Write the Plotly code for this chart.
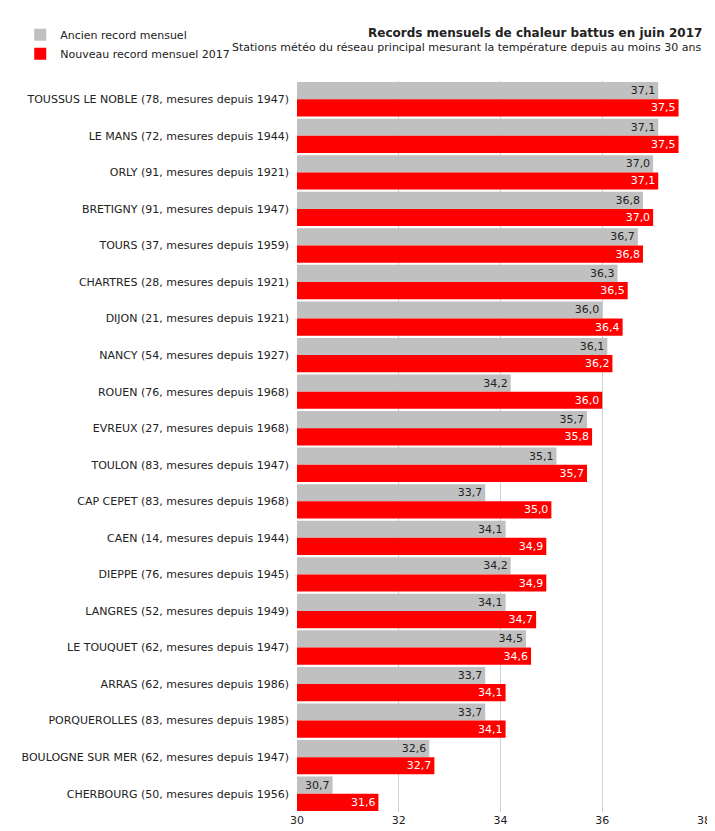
import plotly.graph_objects as go

stations = ["TOUSSUS LE NOBLE (78, mesures depuis 1947)", "LE MANS (72, mesures depuis 1944)",
            "ORLY (91, mesures depuis 1921)", "BRETIGNY (91, mesures depuis 1947)",
            "TOURS (37, mesures depuis 1959)", "CHARTRES (28, mesures depuis 1921)",
            "DIJON (21, mesures depuis 1921)", "NANCY (54, mesures depuis 1927)",
            "ROUEN (76, mesures depuis 1968)", "EVREUX (27, mesures depuis 1968)",
            "TOULON (83, mesures depuis 1947)", "CAP CEPET (83, mesures depuis 1968)",
            "CAEN (14, mesures depuis 1944)", "DIEPPE (76, mesures depuis 1945)",
            "LANGRES (52, mesures depuis 1949)", "LE TOUQUET (62, mesures depuis 1947)",
            "ARRAS (62, mesures depuis 1986)", "PORQUEROLLES (83, mesures depuis 1985)",
            "BOULOGNE SUR MER (62, mesures depuis 1947)", "CHERBOURG (50, mesures depuis 1956)"]
ancien = [37.1, 37.1, 37.0, 36.8, 36.7, 36.3, 36.0, 36.1, 34.2, 35.7,
          35.1, 33.7, 34.1, 34.2, 34.1, 34.5, 33.7, 33.7, 32.6, 30.7]
nouveau = [37.5, 37.5, 37.1, 37.0, 36.8, 36.5, 36.4, 36.2, 36.0, 35.8,
           35.7, 35.0, 34.9, 34.9, 34.7, 34.6, 34.1, 34.1, 32.7, 31.6]

def fr(v):
    return f"{v:.1f}".replace(".", ",")

font = "DejaVu Sans"
fig = go.Figure()
fig.add_trace(go.Bar(y=stations, x=ancien, orientation="h", name="Ancien record mensuel",
                     marker=dict(color="#c0c0c0", line=dict(width=0)),
                     text=[fr(v) for v in ancien], textposition="inside", insidetextanchor="end",
                     textfont=dict(color="#222222", size=11, family=font)))
fig.add_trace(go.Bar(y=stations, x=nouveau, orientation="h", name="Nouveau record mensuel 2017",
                     marker=dict(color="#ff0000", line=dict(width=0)),
                     text=[fr(v) for v in nouveau], textposition="inside", insidetextanchor="end",
                     textfont=dict(color="white", size=11, family=font)))

fig.update_layout(
    width=715, height=831, barmode="group", bargap=0.06, bargroupgap=0,
    plot_bgcolor="white", paper_bgcolor="white",
    margin=dict(l=283, r=15, t=60, b=26),
    font=dict(family=font, size=11, color="#222222"),
    uniformtext=dict(minsize=11, mode="show"),
    legend=dict(x=-0.68, y=1.083, xanchor="left", yanchor="top", font=dict(size=11),
                bgcolor="rgba(0,0,0,0)", itemwidth=30, tracegroupgap=2),
    xaxis=dict(range=[30, 38], dtick=2, showgrid=True, gridcolor="#d0d0d0",
               zeroline=False, ticks="", tickfont=dict(size=11),
               tickformat=".0f", showline=False),
    yaxis=dict(autorange="reversed", ticks="", showgrid=False, ticksuffix="  ",
               tickfont=dict(size=11)),
    annotations=[
        dict(text="<b>Records mensuels de chaleur battus en juin 2017</b>", x=1, y=1.078,
             xref="paper", yref="paper", xanchor="right", yanchor="top", showarrow=False,
             font=dict(size=12)),
        dict(text="Stations météo du réseau principal mesurant la température depuis au moins 30 ans",
             x=1, y=1.058, xref="paper", yref="paper", xanchor="right", yanchor="top",
             showarrow=False, font=dict(size=11)),
    ],
)
fig.write_html("out.html")
